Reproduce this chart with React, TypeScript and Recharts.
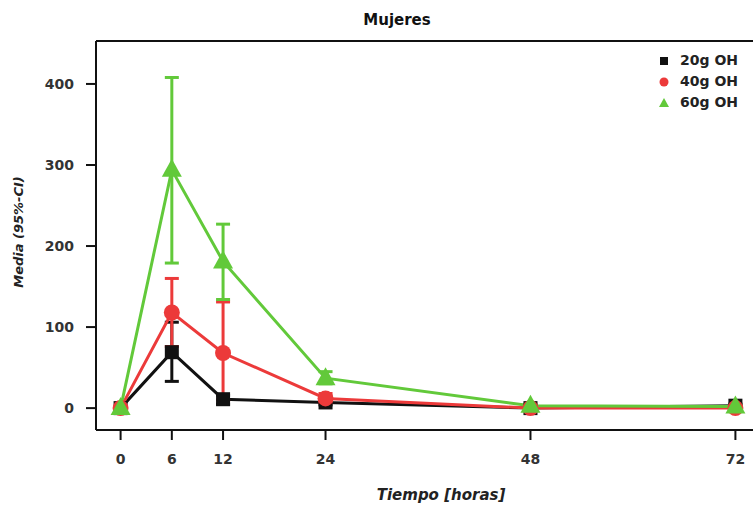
import React from 'react';
import { LineChart, Line, XAxis, YAxis, ErrorBar, ReferenceLine } from 'recharts';

const hours = [0, 6, 12, 24, 48, 72];
const xTicks = [0, 6, 12, 24, 48, 72];
const yTicks = [0, 100, 200, 300, 400];

const mean20 = [0, 69, 11, 7, 0, 3];
const lo20 = [0, 33, 5, 4, -1, 1];
const hi20 = [0, 106, 16, 10, 1, 5];

const mean40 = [0, 118, 68, 12, 0, 0];
const lo40 = [0, 76, 10, 6, -1, -1];
const hi40 = [0, 160, 131, 18, 1, 1];

const mean60 = [0, 294, 181, 37, 3, 2];
const lo60 = [0, 179, 134, 30, 1, 0];
const hi60 = [0, 408, 227, 45, 5, 4];

const BLACK = '#111111';
const RED = '#ec3a3a';
const GREEN = '#62c93a';
const FONT = '"DejaVu Sans", Arial, sans-serif';

const data = hours.map((h, i) => ({
  h,
  m20: mean20[i],
  e20: [mean20[i] - lo20[i], hi20[i] - mean20[i]],
  m40: mean40[i],
  e40: [mean40[i] - lo40[i], hi40[i] - mean40[i]],
  m60: mean60[i],
  e60: [mean60[i] - lo60[i], hi60[i] - mean60[i]],
}));

const squareDot = (p: any) => (
  <rect key={`s-${p.index}`} x={p.cx - 7} y={p.cy - 7} width={14} height={14} fill={BLACK} />
);
const circleDot = (p: any) => (
  <circle key={`c-${p.index}`} cx={p.cx} cy={p.cy} r={8} fill={RED} />
);
const triDot = (p: any) => (
  <polygon
    key={`t-${p.index}`}
    points={`${p.cx},${p.cy - 11} ${p.cx - 10},${p.cy + 7} ${p.cx + 10},${p.cy + 7}`}
    fill={GREEN}
  />
);

const legendItems = [
  { label: '20g OH', color: BLACK, shape: 'square' },
  { label: '40g OH', color: RED, shape: 'circle' },
  { label: '60g OH', color: GREEN, shape: 'triangle' },
];

function LegendBox() {
  return (
    <div style={{ fontFamily: FONT, fontWeight: 'bold', fontSize: 14, color: '#222', lineHeight: '21px' }}>
      {legendItems.map((it) => (
        <div key={it.label} style={{ display: 'flex', alignItems: 'center', height: 21 }}>
          <svg width={16} height={12} style={{ marginRight: 8 }}>
            {it.shape === 'square' && <rect x={4} y={2} width={8} height={8} fill={it.color} />}
            {it.shape === 'circle' && <circle cx={8} cy={6} r={4.5} fill={it.color} />}
            {it.shape === 'triangle' && <polygon points="8,1 3,10 13,10" fill={it.color} />}
          </svg>
          <span>{it.label}</span>
        </div>
      ))}
    </div>
  );
}

const tickStyle = { fill: '#333', fontSize: 14, fontWeight: 'bold', fontFamily: FONT };

export default function App() {
  return (
    <div style={{ position: 'absolute', left: 0, top: 0, width: 753, height: 505, overflow: 'hidden', background: '#fff' }}>
      <LineChart width={770} height={505} data={data} margin={{ top: 41, right: 10, bottom: 0, left: 0 }}>
        <XAxis
          dataKey="h"
          type="number"
          domain={[-2.88, 74.88]}
          ticks={xTicks}
          height={75}
          tick={tickStyle}
          tickSize={10}
          tickMargin={14}
          stroke="#111"
          strokeWidth={2}
          allowDataOverflow
        />
        <YAxis
          type="number"
          domain={[-27, 453]}
          ticks={yTicks}
          width={96}
          tick={tickStyle}
          tickSize={10}
          tickMargin={12}
          stroke="#111"
          strokeWidth={2}
          allowDataOverflow
        />
        <ReferenceLine y={453} stroke="#111" strokeWidth={2} />
        <Line dataKey="m20" stroke={BLACK} strokeWidth={3} dot={squareDot} activeDot={false} isAnimationActive={false}>
          <ErrorBar dataKey="e20" width={7} strokeWidth={3} stroke={BLACK} direction="y" />
        </Line>
        <Line dataKey="m40" stroke={RED} strokeWidth={3} dot={circleDot} activeDot={false} isAnimationActive={false}>
          <ErrorBar dataKey="e40" width={7} strokeWidth={3} stroke={RED} direction="y" />
        </Line>
        <Line dataKey="m60" stroke={GREEN} strokeWidth={3} dot={triDot} activeDot={false} isAnimationActive={false}>
          <ErrorBar dataKey="e60" width={7} strokeWidth={3} stroke={GREEN} direction="y" />
        </Line>
      </LineChart>
      <div style={{ position: 'absolute', left: 656, top: 50 }}>
        <LegendBox />
      </div>
      <div
        style={{
          position: 'absolute', left: 397, top: 20, transform: 'translate(-50%, -50%)',
          fontFamily: FONT, fontWeight: 'bold', fontSize: 15, color: '#111', whiteSpace: 'nowrap',
        }}
      >
        Mujeres
      </div>
      <div
        style={{
          position: 'absolute', left: 18, top: 232, transform: 'translate(-50%, -50%) rotate(-90deg)',
          fontFamily: FONT, fontWeight: 'bold', fontStyle: 'italic', fontSize: 13, color: '#222', whiteSpace: 'nowrap',
        }}
      >
        Media (95%-CI)
      </div>
      <div
        style={{
          position: 'absolute', left: 441, top: 495, transform: 'translate(-50%, -50%)',
          fontFamily: FONT, fontWeight: 'bold', fontStyle: 'italic', fontSize: 15, color: '#222', whiteSpace: 'nowrap',
        }}
      >
        Tiempo [horas]
      </div>
    </div>
  );
}
